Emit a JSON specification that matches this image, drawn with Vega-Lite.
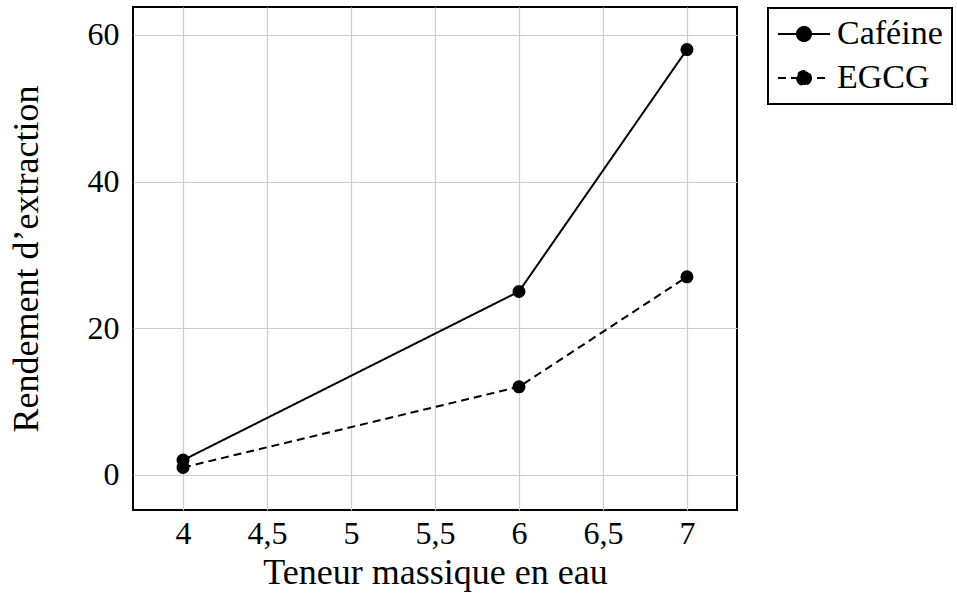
{
  "$schema": "https://vega.github.io/schema/vega-lite/v6.json",
  "width": 604,
  "height": 503,
  "autosize": "none",
  "padding": {"left": 133, "top": 7, "right": 220, "bottom": 91},
  "background": "white",
  "config": {
    "view": {"stroke": "black", "strokeWidth": 2},
    "font": "Liberation Serif",
    "legend": {"strokeWidth": 2}
  },
  "data": {
    "values": [
      {"teneur": 4, "rendement": 2, "serie": "Caféine"},
      {"teneur": 6, "rendement": 25, "serie": "Caféine"},
      {"teneur": 7, "rendement": 58, "serie": "Caféine"},
      {"teneur": 4, "rendement": 1, "serie": "EGCG"},
      {"teneur": 6, "rendement": 12, "serie": "EGCG"},
      {"teneur": 7, "rendement": 27, "serie": "EGCG"}
    ]
  },
  "encoding": {
    "x": {
      "field": "teneur",
      "type": "quantitative",
      "scale": {"domain": [3.702, 7.298], "nice": false, "zero": false},
      "axis": {
        "values": [4, 4.5, 5, 5.5, 6, 6.5, 7],
        "labelExpr": "replace(format(datum.value, '~g'), '.', ',')",
        "title": "Teneur massique en eau",
        "grid": true,
        "gridColor": "#cccccc",
        "gridWidth": 1.2,
        "domain": false,
        "ticks": false,
        "labelFont": "Liberation Serif",
        "labelFontSize": 32,
        "labelColor": "black",
        "labelPadding": 8,
        "titleFont": "Liberation Serif",
        "titleFontSize": 36,
        "titleFontWeight": "normal",
        "titleColor": "black",
        "titleBaseline": "alphabetic",
        "titleY": 73,
        "titleX": 302,
        "titleAlign": "center"
      }
    },
    "y": {
      "field": "rendement",
      "type": "quantitative",
      "scale": {"domain": [-4.8, 63.8], "nice": false, "zero": false},
      "axis": {
        "values": [0, 20, 40, 60],
        "title": "Rendement d’extraction",
        "grid": true,
        "gridColor": "#cccccc",
        "gridWidth": 1.2,
        "domain": false,
        "ticks": false,
        "labelFont": "Liberation Serif",
        "labelFontSize": 32,
        "labelColor": "black",
        "labelPadding": 14,
        "titleFont": "Liberation Serif",
        "titleFontSize": 36,
        "titleFontWeight": "normal",
        "titleColor": "black",
        "titleAngle": -90,
        "titleBaseline": "alphabetic",
        "titleAlign": "center",
        "titleX": -96,
        "titleY": 251.5
      }
    }
  },
  "layer": [
    {
      "mark": {"type": "line", "color": "black", "strokeWidth": 2},
      "encoding": {
        "strokeDash": {
          "field": "serie",
          "type": "nominal",
          "scale": {"domain": ["Caféine", "EGCG"], "range": [[1, 0], [8, 5]]},
          "legend": {
            "title": null,
            "orient": "none",
            "legendX": 635,
            "legendY": 1,
            "strokeColor": "black",
            "fillColor": "white",
            "padding": 9,
            "cornerRadius": 0,
            "labelFont": "Liberation Serif",
            "labelFontSize": 34,
            "labelColor": "black",
            "labelOffset": 16,
            "symbolOffset": 10,
            "rowPadding": 10,
            "symbolType": "M-2,0H2M0.54,0A0.54,0.54,0,1,1,-0.54,0A0.54,0.54,0,1,1,0.54,0Z",
            "symbolSize": 676,
            "symbolStrokeWidth": 2,
            "symbolStrokeColor": "black",
            "symbolFillColor": "black"
          }
        }
      }
    },
    {
      "mark": {"type": "point", "filled": true, "color": "black", "size": 170, "opacity": 1, "shape": "circle"},
      "encoding": {"detail": {"field": "serie", "type": "nominal"}}
    }
  ]
}
